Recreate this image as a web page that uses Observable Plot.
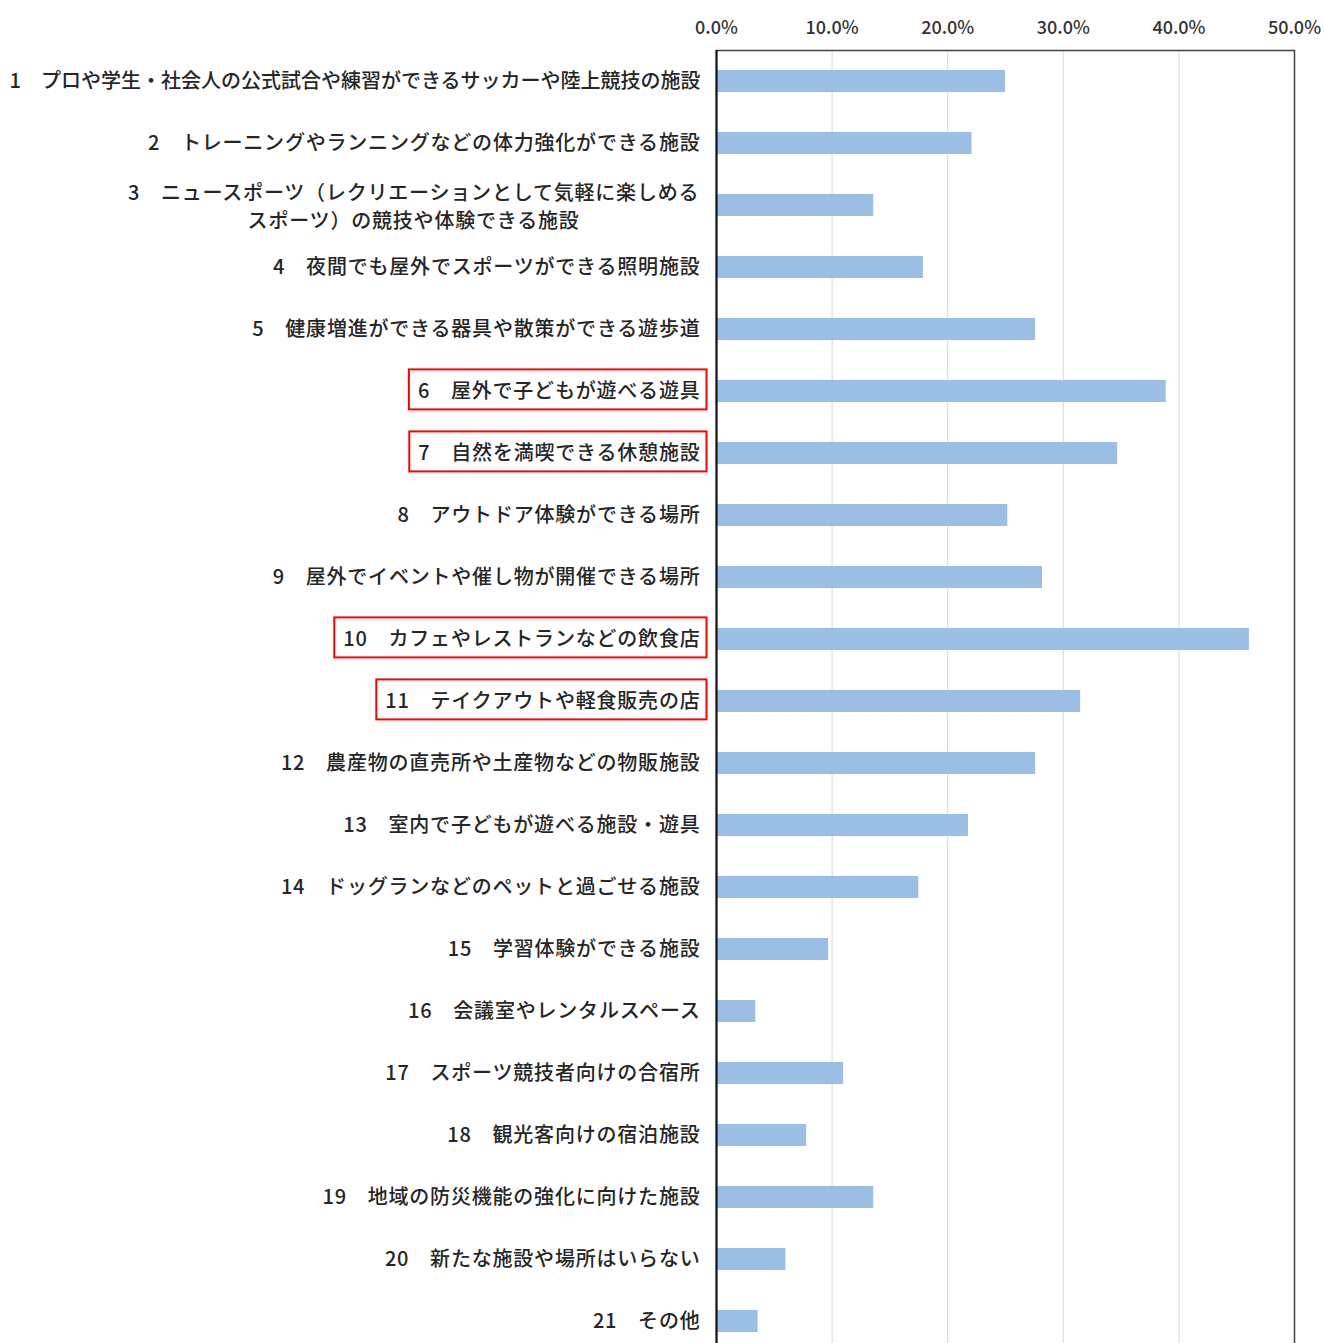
<!DOCTYPE html>
<html>
<head>
<meta charset="utf-8">
<script src="https://cdn.jsdelivr.net/npm/d3@7"></script>
<script src="https://cdn.jsdelivr.net/npm/@observablehq/plot@0.6"></script>
<style>
  html, body { margin: 0; padding: 0; background: #ffffff; overflow: hidden; }
  #chart svg { display: block; }
</style>
</head>
<body>
<div id="chart"></div>
<script>
// ---- data ----
const labels = [
  "1　プロや学生・社会人の公式試合や練習ができるサッカーや陸上競技の施設",
  "2　トレーニングやランニングなどの体力強化ができる施設",
  "3　ニュースポーツ（レクリエーションとして気軽に楽しめる\nスポーツ）の競技や体験できる施設",
  "4　夜間でも屋外でスポーツができる照明施設",
  "5　健康増進ができる器具や散策ができる遊歩道",
  "6　屋外で子どもが遊べる遊具",
  "7　自然を満喫できる休憩施設",
  "8　アウトドア体験ができる場所",
  "9　屋外でイベントや催し物が開催できる場所",
  "10　カフェやレストランなどの飲食店",
  "11　テイクアウトや軽食販売の店",
  "12　農産物の直売所や土産物などの物販施設",
  "13　室内で子どもが遊べる施設・遊具",
  "14　ドッグランなどのペットと過ごせる施設",
  "15　学習体験ができる施設",
  "16　会議室やレンタルスペース",
  "17　スポーツ競技者向けの合宿所",
  "18　観光客向けの宿泊施設",
  "19　地域の防災機能の強化に向けた施設",
  "20　新たな施設や場所はいらない",
  "21　その他"
];
const values = [25.0, 22.1, 13.6, 17.9, 27.6, 38.9, 34.7, 25.2, 28.2, 46.1, 31.5,
                27.6, 21.8, 17.5, 9.7, 3.4, 11.0, 7.8, 13.6, 6.0, 3.6];
const highlighted = [6, 7, 10, 11];
const tickValues = [0, 10, 20, 30, 40, 50];
const tickLabels = ["0.0%", "10.0%", "20.0%", "30.0%", "40.0%", "50.0%"];

const rows = labels.map((label, i) => ({label, value: values[i], no: i + 1}));
const FONT = "'Noto Sans CJK JP', 'Noto Sans', sans-serif";
const LABEL_SIZE = 20;
const SPACING = 0.8;   // letter spacing of category labels (first label is fitted tighter)

// measure widest line of multi-line labels (for centered block alignment)
const ctx = document.createElement("canvas").getContext("2d");
ctx.font = `500 ${LABEL_SIZE}px ${FONT}`;
const widest = s => d3.max(s.split("\n"), t => ctx.measureText(t).width + SPACING * t.length);

const single = rows.filter(d => !d.label.includes("\n"));
const multi = rows.filter(d => d.label.includes("\n"));
const gap = 16;

const chart = Plot.plot({
  width: 1324,
  height: 1343,
  marginLeft: 716,
  marginRight: 30,
  marginTop: 50,
  marginBottom: -9,
  style: {fontFamily: FONT, background: "#ffffff"},
  x: {domain: [0, 50], axis: null},
  y: {domain: labels, paddingInner: 0.65, paddingOuter: 0.325, axis: null},
  marks: [
    Plot.gridX(tickValues.slice(1, -1), {stroke: "#d9d9d9", strokeOpacity: 1, strokeWidth: 1}),
    Plot.barX(rows, {y: "label", x: "value", fill: "#9bbfe4"}),
    Plot.frame({stroke: "#404040", strokeWidth: 1.5}),
    Plot.ruleX([0], {stroke: "#111111", strokeWidth: 2}),
    Plot.axisX(tickValues, {
      anchor: "top", label: null, tickSize: 0, tickPadding: 17, fontSize: 18,
      tickFormat: (d, i) => tickLabels[i], fill: "#333333", fontWeight: 500
    }),
    Plot.text(single, {
      y: "label", text: "label", frameAnchor: "left", textAnchor: "end",
      dx: -gap, fontSize: LABEL_SIZE, fill: "#262626", fontWeight: 500
    }),
    Plot.text(multi, {
      y: "label", text: "label", frameAnchor: "left", textAnchor: "middle",
      fontSize: LABEL_SIZE, fill: "#262626", fontWeight: 500, lineHeight: 1.4
    })
  ]
});

document.getElementById("chart").append(chart);

const svg = d3.select(chart);
const labelTexts = svg.selectAll("text").filter(function() {
  const t = this.textContent;
  return rows.some(d => d.label.replace(/\n/g, "") === t);
});

// letter spacing for category labels (label 1 is fitted tighter, as in the original)
labelTexts.each(function() {
  if (this.textContent !== labels[0]) this.style.letterSpacing = SPACING + "px";
});

// shift centered multi-line label so its widest line ends at the same right edge
labelTexts.each(function() {
  const m = multi.find(d => d.label.replace(/\n/g, "") === this.textContent);
  if (m) {
    const w = widest(m.label);
    const tr = this.getAttribute("transform") || "";
    this.setAttribute("transform", tr + ` translate(${-(gap + w / 2)},0)`);
  }
});

// red highlight boxes around selected labels
const hiLabels = highlighted.map(n => labels[n - 1]);
const sb = chart.getBoundingClientRect();
labelTexts.each(function() {
  if (hiLabels.includes(this.textContent)) {
    const bb = this.getBoundingClientRect();
    const cx = bb.left - sb.left, cy = bb.top - sb.top;
    const midY = cy + bb.height / 2;
    svg.append("rect")
      .attr("x", cx - 9)
      .attr("y", midY - 20)
      .attr("width", bb.width + 15)
      .attr("height", 40)
      .attr("fill", "none")
      .attr("stroke", "#ff0000")
      .attr("stroke-width", 2);
  }
});
</script>
</body>
</html>
